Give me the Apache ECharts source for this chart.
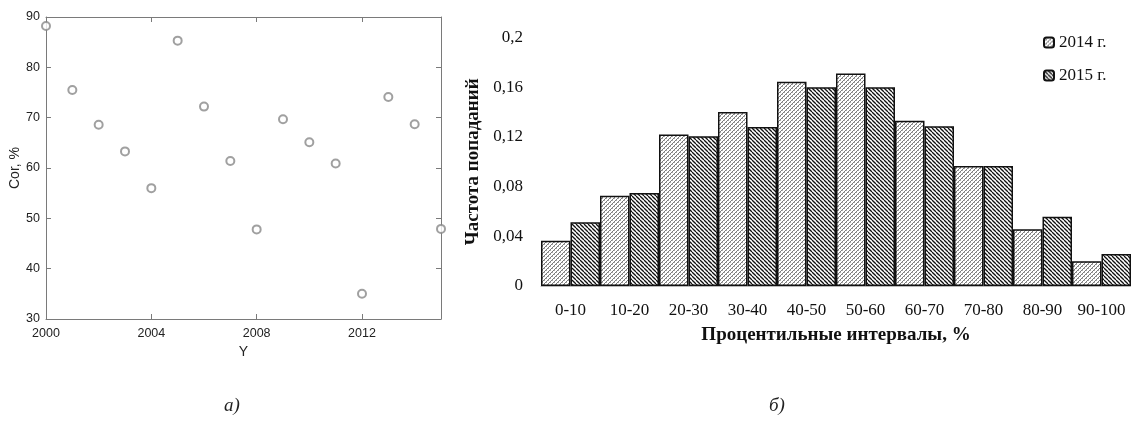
<!DOCTYPE html>
<html>
<head>
<meta charset="utf-8">
<script src="https://cdn.jsdelivr.net/npm/echarts@6/dist/echarts.min.js"></script>
<style>
  html, body { margin: 0; padding: 0; background: #fff; }
  #main { width: 1131px; height: 421px; }
</style>
</head>
<body>
<div id="main"></div>
<script>
// левый график: Cor,% по годам
const years = [2000, 2001, 2002, 2003, 2004, 2005, 2006, 2007, 2008, 2009, 2010, 2011, 2012, 2013, 2014, 2015];
const corValues = [88.2, 75.5, 68.6, 63.3, 56.0, 85.3, 72.2, 61.4, 47.8, 69.7, 65.1, 60.9, 35.0, 74.1, 68.7, 47.9];

// правый график: частота попаданий
const intervals = ["0-10", "10-20", "20-30", "30-40", "40-50", "50-60", "60-70", "70-80", "80-90", "90-100"];
const freq2014 = [0.0365, 0.0727, 0.122, 0.140, 0.1644, 0.171, 0.133, 0.0966, 0.0456, 0.0199];
const freq2015 = [0.0513, 0.0748, 0.1205, 0.128, 0.160, 0.160, 0.1286, 0.0966, 0.0558, 0.0258];
const seriesNames = ["2014 г.", "2015 г."];

function makePattern(kind) {
  const s = 4;
  const c = document.createElement("canvas");
  c.width = s; c.height = s;
  const ctx = c.getContext("2d");
  ctx.fillStyle = "#fff";
  ctx.fillRect(0, 0, s, s);
  if (kind === "dark") {
    ctx.strokeStyle = "#111";
    ctx.lineWidth = 1.3;
    for (let k = -s; k <= s; k += s) {
      ctx.beginPath(); ctx.moveTo(k, 0); ctx.lineTo(k + s, s); ctx.stroke();
    }
  } else {
    ctx.strokeStyle = "#7c7c7c";
    ctx.lineWidth = 1;
    for (let k = -s; k <= s; k += s) {
      ctx.beginPath(); ctx.moveTo(k, s); ctx.lineTo(k + s, 0); ctx.stroke();
    }
    ctx.fillStyle = "#a8a8a8";
    ctx.fillRect(0, 0, 1, 1);
    ctx.fillRect(2, 2, 1, 1);
  }
  return { image: c, repeat: "repeat" };
}

const chart = echarts.init(document.getElementById("main"));
const sans = "Liberation Sans";
const serif = "Liberation Serif";
const frame = { show: true, lineStyle: { color: "#7a7a7a", width: 1 } };
const inTick = { show: true, inside: true, length: 5, lineStyle: { color: "#7a7a7a" } };

chart.setOption({
  animation: false,
  legend: {
    data: seriesNames,
    orient: "vertical",
    left: 1038,
    top: 29,
    itemWidth: 10,
    itemHeight: 10,
    itemGap: 16,
    textStyle: { fontFamily: serif, fontSize: 17, color: "#111" }
  },
  grid: [
    { left: 46, top: 17, width: 395, height: 302 },
    { left: 541, top: 37.5, width: 592, height: 248.5 }
  ],
  xAxis: [
    {
      gridIndex: 0, type: "value", min: 2000, max: 2015, interval: 4,
      name: "Y", nameLocation: "middle", nameGap: 24,
      nameTextStyle: { fontFamily: sans, fontSize: 14, color: "#222" },
      axisLine: frame, axisTick: inTick, splitLine: { show: false },
      axisLabel: {
        fontFamily: sans, fontSize: 12.5, color: "#222", margin: 8,
        formatter: v => (v % 4 === 0 ? String(v) : "")
      }
    },
    {
      gridIndex: 0, type: "value", position: "top", min: 2000, max: 2015, interval: 4,
      axisLine: frame, axisTick: inTick, axisLabel: { show: false }, splitLine: { show: false }
    },
    {
      gridIndex: 1, type: "category", data: intervals,
      name: "Процентильные интервалы, %", nameLocation: "middle", nameGap: 40,
      nameTextStyle: { fontFamily: serif, fontSize: 19, fontWeight: "bold", color: "#111" },
      axisLine: { show: true, lineStyle: { color: "#bbb", width: 1 } },
      axisTick: { show: false },
      axisLabel: { interval: 0, hideOverlap: false, fontFamily: serif, fontSize: 17, color: "#111", margin: 16 }
    }
  ],
  yAxis: [
    {
      gridIndex: 0, type: "value", min: 30, max: 90, interval: 10,
      name: "Cor, %", nameLocation: "middle", nameGap: 24, nameRotate: 90,
      nameTextStyle: { fontFamily: sans, fontSize: 14, color: "#222" },
      axisLine: frame, axisTick: inTick, splitLine: { show: false },
      axisLabel: { fontFamily: sans, fontSize: 12.5, color: "#222", margin: 6 }
    },
    {
      gridIndex: 0, type: "value", position: "right", min: 30, max: 90, interval: 10,
      axisLine: frame, axisTick: inTick, axisLabel: { show: false }, splitLine: { show: false }
    },
    {
      gridIndex: 1, type: "value", min: 0, max: 0.2, interval: 0.04,
      name: "Частота попаданий", nameLocation: "middle", nameGap: 52, nameRotate: 90,
      nameTextStyle: { fontFamily: serif, fontSize: 19, fontWeight: "bold", color: "#111" },
      axisLine: { show: false }, axisTick: { show: false }, splitLine: { show: false },
      axisLabel: {
        fontFamily: serif, fontSize: 17, color: "#111", margin: 18,
        formatter: v => String(+v.toFixed(2)).replace(".", ",")
      }
    }
  ],
  series: [
    {
      type: "scatter", xAxisIndex: 0, yAxisIndex: 0,
      symbol: "emptyCircle", symbolSize: 8,
      itemStyle: { color: "#888", borderWidth: 0.9 },
      data: years.map((y, i) => [y, corValues[i]])
    },
    {
      name: seriesNames[0], type: "bar", xAxisIndex: 2, yAxisIndex: 2,
      barGap: "0%", barCategoryGap: "0%",
      itemStyle: { color: makePattern("light"), borderColor: "#111", borderWidth: 1.5 },
      data: freq2014
    },
    {
      name: seriesNames[1], type: "bar", xAxisIndex: 2, yAxisIndex: 2,
      barGap: "0%", barCategoryGap: "0%",
      itemStyle: { color: makePattern("dark"), borderColor: "#111", borderWidth: 1.5 },
      data: freq2015
    }
  ],
  graphic: [
    { type: "text", left: 224, top: 396, style: { text: "а)", font: "italic 19px 'Liberation Serif'", fill: "#222" } },
    { type: "text", left: 769, top: 396, style: { text: "б)", font: "italic 19px 'Liberation Serif'", fill: "#222" } }
  ]
});
</script>
</body>
</html>
